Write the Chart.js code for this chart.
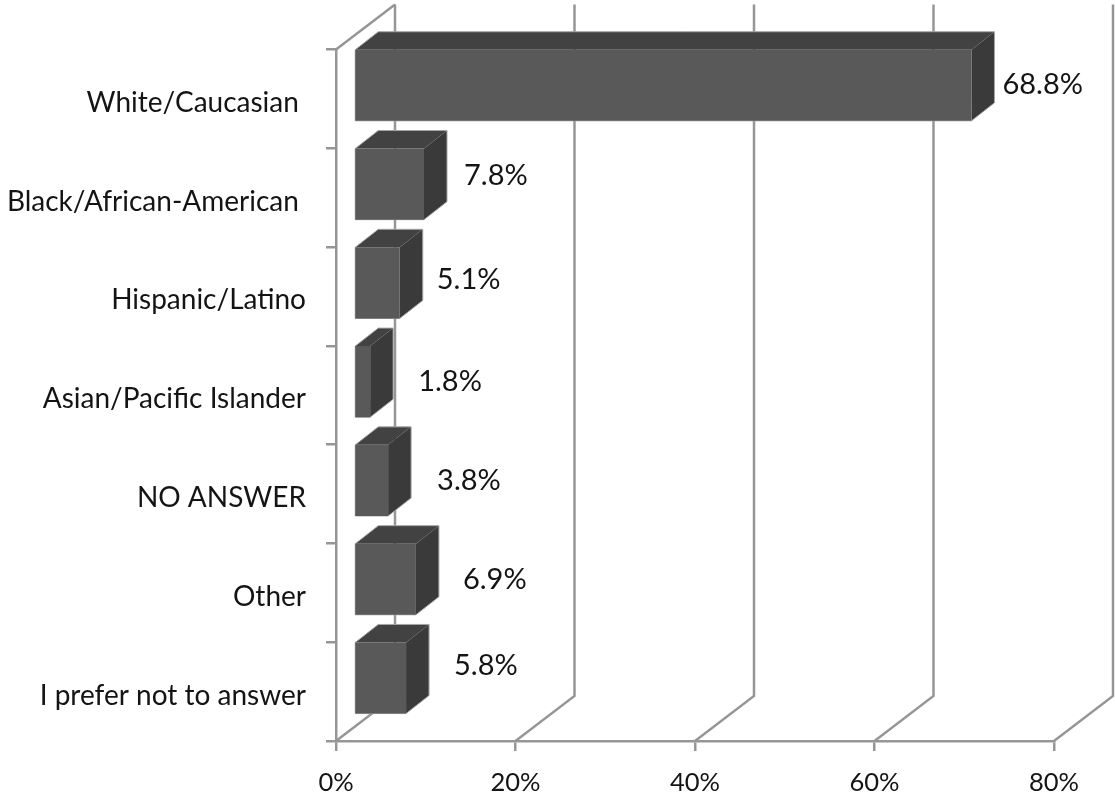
<!DOCTYPE html>
<html>
<head>
<meta charset="utf-8">
<style>
  html, body { margin: 0; padding: 0; background: #fff; }
  canvas { display: block; }
</style>
<script src="https://cdn.jsdelivr.net/npm/chart.js@4"></script>
</head>
<body>
<canvas id="chart" width="1115" height="799"></canvas>
<script>
const categories = ['White/Caucasian ', 'Black/African-American ', 'Hispanic/Latino', 'Asian/Pacific Islander', 'NO ANSWER', 'Other', 'I prefer not to answer'];
const percents = [68.8, 7.8, 5.1, 1.8, 3.8, 6.9, 5.8];
const valueLabels = ['68.8%', '7.8%', '5.1%', '1.8%', '3.8%', '6.9%', '5.8%'];
const xTicks = [0, 20, 40, 60, 80];

// hand placed data labels in the original, nudged from the bar's back corner
const labelGapX = [8, 17, 14, 25, 26, 24, 25];
const labelGapY = [-1, -8, -3, 0, 0, 0, -12];

const FONT = 'Lato';
const TEXT_COLOR = '#141414';
const AXIS_COLOR = '#969696';
const WALL = { dx: 59, dy: 45 };   // depth of the 3D box
const BAR = { dx: 23, dy: 18, shiftX: 18, shiftY: -13.6 };

const wallPlugin = {
    id: 'wall',
    beforeDatasetsDraw(chart) {
        const ctx = chart.ctx;
        const x = chart.scales.x;
        const top = chart.chartArea.top;
        const bottom = chart.chartArea.bottom;

        ctx.save();
        ctx.strokeStyle = AXIS_COLOR;
        ctx.lineWidth = 2.5;
        xTicks.forEach(t => {
            const px = x.getPixelForValue(t);
            ctx.beginPath();
            ctx.moveTo(px, bottom);
            ctx.lineTo(px + WALL.dx, bottom - WALL.dy);
            ctx.lineTo(px + WALL.dx, top - WALL.dy);
            ctx.stroke();
        });
        // left side wall, top edge
        const x0 = x.getPixelForValue(0);
        ctx.beginPath();
        ctx.moveTo(x0, top);
        ctx.lineTo(x0 + WALL.dx, top - WALL.dy);
        ctx.stroke();
        ctx.restore();
    }
};

const bar3dPlugin = {
    id: 'bar3d',
    beforeDatasetDraw(chart, args) {
        const ctx = chart.ctx;
        const meta = args.meta;

        ctx.save();
        ctx.translate(BAR.shiftX, BAR.shiftY);
        meta.data.forEach(el => {
            const t = el.y - el.height / 2;
            const b = el.y + el.height / 2;
            const l = el.base;
            const r = el.x;

            // top face
            ctx.fillStyle = '#424242';
            ctx.beginPath();
            ctx.moveTo(l, t);
            ctx.lineTo(l + BAR.dx, t - BAR.dy);
            ctx.lineTo(r + BAR.dx, t - BAR.dy);
            ctx.lineTo(r, t);
            ctx.closePath();
            ctx.fill();

            // side face
            ctx.fillStyle = '#3a3a3a';
            ctx.beginPath();
            ctx.moveTo(r, t);
            ctx.lineTo(r + BAR.dx, t - BAR.dy);
            ctx.lineTo(r + BAR.dx, b - BAR.dy);
            ctx.lineTo(r, b);
            ctx.closePath();
            ctx.fill();

            // light outline around the box
            ctx.strokeStyle = '#a6a6a6';
            ctx.lineWidth = 1;
            ctx.beginPath();
            ctx.moveTo(l, b);
            ctx.lineTo(l, t);
            ctx.lineTo(l + BAR.dx, t - BAR.dy);
            ctx.lineTo(r + BAR.dx, t - BAR.dy);
            ctx.lineTo(r + BAR.dx, b - BAR.dy);
            ctx.lineTo(r, b);
            ctx.closePath();
            ctx.stroke();
        });
        // keep the translate on for the library's own front faces
    },
    afterDatasetDraw(chart) {
        chart.ctx.restore();
    }
};

const valueLabelPlugin = {
    id: 'valueLabels',
    afterDraw(chart) {
        const ctx = chart.ctx;
        const meta = chart.getDatasetMeta(0);

        ctx.save();
        ctx.font = '29px ' + FONT;
        ctx.fillStyle = TEXT_COLOR;
        ctx.textAlign = 'left';
        ctx.textBaseline = 'middle';
        meta.data.forEach((el, i) => {
            const px = el.x + BAR.shiftX + BAR.dx + labelGapX[i];
            const py = el.y + BAR.shiftY + labelGapY[i];
            ctx.fillText(valueLabels[i], px, py);
        });
        ctx.restore();
    }
};

new Chart(document.getElementById('chart'), {
    type: 'bar',
    data: {
        labels: categories,
        datasets: [{
            data: percents,
            backgroundColor: '#595959',
            borderWidth: 0,
            categoryPercentage: 1,
            barPercentage: 0.72,
            clip: false
        }]
    },
    options: {
        indexAxis: 'y',
        responsive: false,
        animation: false,
        events: [],
        layout: { padding: { top: 49.5, right: 61, bottom: 0, left: 0 } },
        plugins: {
            legend: { display: false },
            title: { display: false },
            tooltip: { enabled: false }
        },
        scales: {
            x: {
                type: 'linear',
                min: 0,
                max: 80,
                afterFit(scale) { scale.height = 58; },
                afterBuildTicks(scale) { scale.ticks = xTicks.map(value => ({ value })); },
                grid: { drawOnChartArea: false, color: AXIS_COLOR, lineWidth: 2.5, tickLength: 10 },
                border: { color: AXIS_COLOR, width: 2.5 },
                ticks: {
                    callback: v => v + '%',
                    color: TEXT_COLOR,
                    font: { family: FONT, size: 25.5 },
                    padding: 16,
                    maxRotation: 0
                }
            },
            y: {
                afterFit(scale) { scale.width = 336; },
                grid: { drawOnChartArea: false, color: AXIS_COLOR, lineWidth: 2.5, tickLength: 10 },
                border: { color: AXIS_COLOR, width: 2.5 },
                ticks: {
                    // empty first line with a small line height pushes the text 4px down
                    callback: (v, i) => ['', categories[i]],
                    color: TEXT_COLOR,
                    font: { family: FONT, size: 28, lineHeight: '8px' },
                    padding: 20,
                    autoSkip: false
                }
            }
        }
    },
    plugins: [wallPlugin, bar3dPlugin, valueLabelPlugin]
});
</script>
</body>
</html>
